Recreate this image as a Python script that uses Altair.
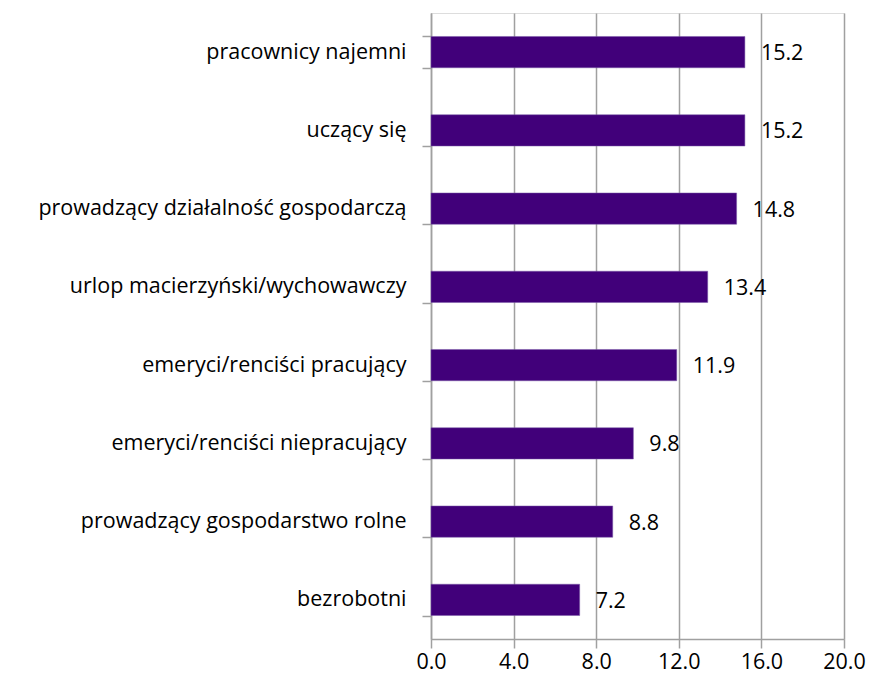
import altair as alt
import pandas as pd

categories = [
    "pracownicy najemni",
    "uczący się",
    "prowadzący działalność gospodarczą",
    "urlop macierzyński/wychowawczy",
    "emeryci/renciści pracujący",
    "emeryci/renciści niepracujący",
    "prowadzący gospodarstwo rolne",
    "bezrobotni",
]
values = [15.2, 15.2, 14.8, 13.4, 11.9, 9.8, 8.8, 7.2]
x_ticks = [0, 4, 8, 12, 16, 20]

df = pd.DataFrame({"cat": categories, "val": values})

FONT = "Open Sans"
FS = 21.5
BAR = "#41007A"
GRID = "#A0A0A0"

y_enc = alt.Y(
    "cat:N",
    sort=categories,
    title=None,
    scale=alt.Scale(paddingInner=0.6, paddingOuter=0.3),
    axis=alt.Axis(
        tickBand="extent",
        tickSize=9,
        tickColor=GRID,
        tickWidth=1.5,
        domainColor=GRID,
        domainWidth=1.5,
        labelFontSize=FS,
        labelFont=FONT,
        labelColor="#000000",
        labelPadding=16,
        labelLimit=0,
        grid=False,
    ),
)
x_enc = alt.X(
    "val:Q",
    title=None,
    scale=alt.Scale(domain=[0, 20], nice=False),
    axis=alt.Axis(
        values=x_ticks,
        format=".1f",
        tickSize=9,
        tickColor=GRID,
        tickWidth=1.5,
        domainColor=GRID,
        domainWidth=1.5,
        gridColor=GRID,
        gridWidth=1.5,
        labelFontSize=FS,
        labelFont=FONT,
        labelColor="#000000",
        labelPadding=3,
        labelFlush=False,
    ),
)

bars = alt.Chart(df).mark_bar(color=BAR, stroke="#7A5AA8", strokeWidth=0.5).encode(x=x_enc, y=y_enc)
labels = alt.Chart(df).mark_text(
    align="left", baseline="middle", dx=16, dy=2, fontSize=FS, font=FONT, color="#000000"
).encode(x=alt.X("val:Q"), y=alt.Y("cat:N", sort=categories), text=alt.Text("val:Q", format=".1f"))

chart = (
    alt.layer(bars, labels)
    .properties(
        width=413,
        height=626,
        autosize=alt.AutoSizeParams(type="none"),
        padding={"left": 423, "top": 5, "right": 22, "bottom": 39},
    )
    .configure_view(stroke=None)
    .configure(background="#FFFFFF")
)

chart.save("out.html", embed_options={"renderer": "svg", "actions": False})
